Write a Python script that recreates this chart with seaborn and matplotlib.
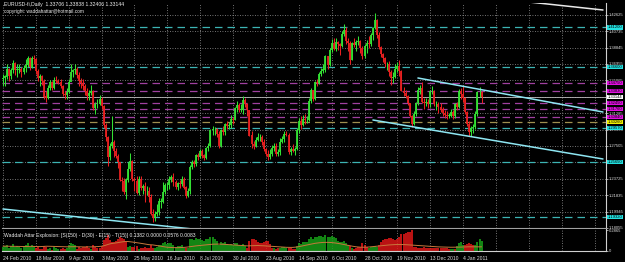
import numpy as np
import pandas as pd
import matplotlib
matplotlib.use("Agg")
import matplotlib.pyplot as plt
import matplotlib.transforms as mtransforms
from matplotlib import font_manager
import seaborn as sns

sns.set_theme(style="dark")
_names = {f.name for f in font_manager.fontManager.ttflist}
FONT = 'Liberation Sans Narrow' if 'Liberation Sans Narrow' in _names else 'Liberation Sans'
plt.rcParams['font.family'] = [FONT, 'DejaVu Sans']

# ---------------- data (prices in pips, 1/10000) ----------------
first_open = 13525
closes = [13530, 13550, 13630, 13560, 13620, 13700, 13620, 13630, 13630, 13600,
          13650, 13680, 13760, 13660, 13760, 13750, 13610, 13530, 13550, 13500,
          13320, 13300, 13420, 13480, 13420, 13510, 13500, 13480, 13440, 13350,
          13340, 13370, 13490, 13600, 13620, 13640, 13570, 13500, 13470, 13440,
          13380, 13330, 13360, 13380, 13190, 13230, 13230, 13290, 13210, 12990,
          12850, 12620, 12750, 12800, 12690, 12630, 12560, 12360, 12350, 12220,
          12360, 12480, 12570, 12370, 12350, 12210, 12370, 12270, 12290, 12230,
          12230, 12160, 11970, 11920, 11970, 11990, 12110, 12110, 12220, 12300,
          12300, 12370, 12390, 12330, 12280, 12320, 12310, 12370, 12270, 12170,
          12230, 12510, 12560, 12540, 12640, 12620, 12690, 12640, 12610, 12730,
          12750, 12930, 12940, 12940, 12890, 12750, 12930, 12910, 13000, 12980,
          12990, 13060, 13050, 13190, 13220, 13160, 13170, 13280, 13230, 13160,
          12870, 12770, 12750, 12820, 12850, 12850, 12800, 12710, 12660, 12620,
          12660, 12730, 12750, 12660, 12680, 12800, 12830, 12890, 12880, 12680,
          12710, 12690, 12710, 12930, 13040, 12990, 13060, 13050, 13050, 13270,
          13390, 13290, 13490, 13470, 13580, 13610, 13630, 13790, 13680, 13860,
          13930, 13870, 13950, 13920, 13900, 14040, 14080, 13960, 13940, 13740,
          13930, 13910, 13950, 13960, 13880, 13790, 13900, 13940, 13920, 14030,
          14110, 14200, 14030, 13890, 13810, 13760, 13690, 13690, 13600, 13530,
          13540, 13640, 13670, 13610, 13380, 13360, 13330, 13240, 13090, 13000,
          13120, 13240, 13390, 13420, 13260, 13240, 13250, 13230, 13380, 13380,
          13230, 13230, 13200, 13170, 13130, 13110, 13100, 13100, 13140, 13100,
          13230, 13200, 13380, 13350, 13300, 13140, 13000, 12910, 12960, 12970,
          13120, 13370, 13371, 13314]
highs = [13580, 13570, 13690, 13650, 13650, 13740, 13720, 13700, 13690, 13660,
         13680, 13750, 13790, 13770, 13790, 13800, 13760, 13640, 13580, 13570,
         13520, 13380, 13450, 13510, 13500, 13540, 13560, 13520, 13520, 13450,
         13380, 13420, 13520, 13690, 13640, 13700, 13660, 13600, 13530, 13520,
         13460, 13420, 13390, 13450, 13400, 13260, 13290, 13340, 13320, 13220,
         13020, 12870, 12790, 13090, 12820, 12730, 12660, 12570, 12390, 12380,
         12380, 12560, 12670, 12590, 12390, 12400, 12400, 12400, 12310, 12330,
         12290, 12280, 12200, 12020, 12000, 12080, 12150, 12150, 12340, 12320,
         12340, 12400, 12420, 12440, 12360, 12340, 12360, 12400, 12390, 12290,
         12270, 12530, 12590, 12590, 12660, 12670, 12720, 12710, 12660, 12740,
         12790, 12950, 12980, 12970, 12960, 12920, 12950, 12980, 13020, 13040,
         13030, 13110, 13080, 13200, 13270, 13250, 13230, 13330, 13300, 13250,
         13160, 12920, 12810, 12850, 12900, 12890, 12880, 12830, 12730, 12700,
         12710, 12760, 12780, 12790, 12720, 12840, 12860, 12920, 12920, 12900,
         12740, 12770, 12740, 12960, 13070, 13100, 13110, 13120, 13090, 13300,
         13420, 13400, 13500, 13520, 13600, 13650, 13700, 13800, 13790, 13880,
         13980, 14000, 14000, 13960, 13940, 14070, 14160, 14120, 14000, 13960,
         13950, 14000, 13970, 14020, 13970, 13900, 13920, 13970, 14020, 14050,
         14120, 14282, 14210, 14060, 13900, 13820, 13780, 13720, 13730, 13620,
         13600, 13700, 13720, 13740, 13620, 13430, 13390, 13340, 13250, 13110,
         13150, 13260, 13430, 13450, 13490, 13300, 13300, 13290, 13400, 13440,
         13390, 13270, 13260, 13250, 13200, 13160, 13150, 13130, 13180, 13170,
         13240, 13260, 13410, 13420, 13440, 13310, 13150, 13040, 12980, 13000,
         13150, 13380, 13433, 13384]
lows = [13440, 13440, 13520, 13500, 13520, 13590, 13570, 13550, 13590, 13540,
        13580, 13600, 13660, 13620, 13650, 13700, 13580, 13500, 13440, 13450,
        13290, 13260, 13290, 13400, 13390, 13410, 13470, 13460, 13420, 13330,
        13290, 13290, 13360, 13560, 13540, 13580, 13530, 13440, 13420, 13400,
        13340, 13280, 13280, 13340, 13160, 13120, 13190, 13220, 13180, 12960,
        12810, 12520, 12590, 12730, 12620, 12610, 12500, 12350, 12230, 12200,
        12140, 12330, 12460, 12350, 12230, 12200, 12190, 12240, 12200, 12110,
        12180, 12110, 11950, 11876, 11880, 11940, 11960, 12040, 12090, 12200,
        12240, 12250, 12330, 12290, 12250, 12240, 12260, 12290, 12250, 12150,
        12160, 12200, 12480, 12510, 12520, 12590, 12610, 12610, 12590, 12600,
        12690, 12740, 12880, 12880, 12850, 12730, 12740, 12880, 12880, 12950,
        12950, 12960, 13000, 13050, 13140, 13140, 13140, 13120, 13200, 13100,
        12860, 12730, 12720, 12740, 12810, 12810, 12760, 12690, 12630, 12590,
        12600, 12640, 12690, 12640, 12630, 12650, 12780, 12800, 12860, 12660,
        12650, 12680, 12650, 12700, 12900, 12950, 12980, 13000, 13010, 13040,
        13250, 13270, 13280, 13440, 13460, 13560, 13590, 13600, 13640, 13670,
        13830, 13860, 13850, 13860, 13800, 13890, 14020, 13930, 13840, 13700,
        13740, 13890, 13850, 13910, 13820, 13750, 13760, 13820, 13880, 13900,
        13970, 14100, 14000, 13870, 13770, 13720, 13660, 13630, 13560, 13450,
        13480, 13530, 13600, 13560, 13380, 13330, 13300, 13220, 13080, 12970,
        12990, 13100, 13220, 13350, 13240, 13180, 13210, 13190, 13200, 13350,
        13210, 13160, 13130, 13140, 13100, 13070, 13060, 13070, 13080, 13060,
        13070, 13160, 13190, 13290, 13260, 13120, 12980, 12870, 12870, 12900,
        12940, 13100, 13310, 13241]

# Waddah Attar Explosion: signed trend histogram (+ green / - red), explosion line (x1/1000)
wae_trend = [60, 75, 90, 40, 65, 95, 50, 70, 55, 45, 70, 85, 105, 60, 90,
             70, -45, -60, -30, -25, -70, -55, 30, 40, -20,
             50, 45, 30, -25, -35, -30, 40,
             80, 110, 95, 85, -30,
             -50, -45, -55, -60, -65, -40, 30, -85, -60, -45,
             -40, -70, -150, -180, -215, -150, -120, -130, -140, -160, -200, -175, -165, -120,
             50, 70, -60, -55, -70, 30, -45, -40, -50, -45, -40, -80,
             -40, 35, 50, 80, 85, 110, 120, 100, 115, 105, 80, 60, 70, 65, 80, 40, -35,
             45, 160, 170, 150, 175, 160, 170, 150, 140, 165, 170, 200, 190, 170,
             140, 90, 120, 110, 120, 100, 90, 100, 85, 110, 115, 80, 75, 95, 70, -45,
             -140, -160, -170, -150, -120, -110, -115, -130, -140, -135, -100,
             -40, 35, -30, -45, 40, 50, 60, 45, -45, -35, -30, -25,
             70, 110, 100, 120, 125, 120, 170, 190, 165, 200, 195, 210, 205, 200, 220, 190, 200, 210, 195, 180,
             140, 120, 130, 135, 110, 80, -70, 40,
             -30, -40, -50, -60, -110, -90, -50,
             35, 50, 60, 75, 60,
             -90, -130, -150, -160, -170, -180, -185, -160, -150, -170, -200, -230, -240, -250, -260, -270, -285,
             -60, -50, -45, -40, -45, -50, -40, -45, -40, -35, -40,
             -45, -40, -45, -40, -40, -35, -30, 25, 30, -30,
             70, 110, 120, 90,
             -90, -100, -110, -95, -80,
             80, 130, 170, 138]
wae_explosion = [68, 67, 66, 66, 65, 65, 64, 64, 63, 63,
                 62, 62, 63, 64, 64, 63, 62, 61, 61, 62,
                 64, 66, 66, 65, 64, 63, 62, 61, 60, 60,
                 59, 58, 58, 59, 60, 60, 59, 58, 57, 57,
                 56, 56, 56, 57, 59, 60, 61, 64, 66, 72,
                 80, 90, 98, 104, 108, 112, 116, 122, 126, 130,
                 132, 131, 128, 124, 120, 116, 112, 107, 102, 97,
                 92, 88, 86, 84, 80, 75, 70, 65, 60, 56,
                 52, 50, 48, 47, 46, 46, 47, 48, 50, 52,
                 56, 60, 64, 68, 71, 74, 77, 80, 83, 86,
                 89, 92, 94, 95, 96, 96, 95, 94, 92, 90,
                 88, 86, 84, 82, 80, 78, 76, 74, 72, 71,
                 72, 74, 75, 76, 76, 75, 74, 72, 70, 68,
                 66, 64, 62, 60, 58, 56, 54, 52, 51, 50,
                 50, 50, 52, 55, 60, 66, 72, 78, 84, 90,
                 96, 102, 107, 111, 114, 117, 119, 120, 120, 119,
                 117, 114, 110, 106, 101, 96, 90, 84, 78, 72,
                 67, 62, 58, 55, 53, 52, 52, 53, 55, 58,
                 61, 64, 67, 70, 73, 76, 79, 82, 84, 86,
                 88, 89, 90, 90, 90, 89, 88, 86, 84, 82,
                 80, 78, 76, 74, 72, 70, 68, 66, 64, 62,
                 60, 58, 57, 56, 55, 54, 53, 52, 52, 52,
                 52, 53, 54, 55, 56, 57, 58, 58, 58, 58,
                 58, 58, 58, 57.6]

date_labels = ["24 Feb 2010", "18 Mar 2010", "9 Apr 2010", "3 May 2010", "25 May 2010",
               "16 Jun 2010", "8 Jul 2010", "30 Jul 2010", "23 Aug 2010", "14 Sep 2010",
               "6 Oct 2010", "28 Oct 2010", "19 Nov 2010", "13 Dec 2010", "4 Jan 2011"]
price_ticks = [1.42625, 1.40735, 1.38845, 1.36955, 1.35065, 1.33175, 1.31285,
               1.29395, 1.27505, 1.25615, 1.23725, 1.21835, 1.19945, 1.18055]
cyan_levels = [1.41200, 1.36600, 1.29570, 1.25650, 1.19320]
magenta_levels = [1.34750, 1.33830, 1.32450, 1.31760, 1.30840]
olive_levels = [1.30260]
last_price = 1.33144
# trend lines: (bar0, price0, bar1, price1)
channel_upper = [(202.0, 1.35334), (292.1, 1.31415)]
channel_lower = [(180.1, 1.30493), (292.1, 1.26000)]
support_left = [(0.0, 1.20237), (100.0, 1.17740)]
resist_top = [(240.0, 1.44500), (292.1, 1.43170)]

title = "EURUSD-fi,Daily  1.33706 1.33838 1.32406 1.33144"
subtitle = "copyright: waddahattar@hotmail.com"
ind_label = "Waddah Attar Explosion: [S(150) - D(30) - E(15) - T(15)] 0.1382 0.0000 0.0576 0.0083"

# ---------------- build ----------------
dates = pd.bdate_range("2010-02-24", "2011-01-17")
c = np.array(closes) / 1e4
o = np.concatenate([[first_open], closes[:-1]]) / 1e4
h = np.array(highs) / 1e4
l = np.array(lows) / 1e4
bars = np.arange(len(c))
df = pd.DataFrame({"bar": bars, "open": o, "high": h, "low": l, "close": c})
ind = pd.DataFrame({"bar": bars, "trend": np.array(wae_trend) / 1000.0,
                    "expl": np.array(wae_explosion) / 1000.0})

W, H = 625, 262
fig = plt.figure(figsize=(W / 100, H / 100), dpi=100, facecolor="black")
ax = fig.add_axes([2 / W, (H - 228) / H, 604 / W, 225 / H], facecolor="black")
ax2 = fig.add_axes([2 / W, (H - 251) / H, 604 / W, 22 / H], facecolor="black")

PX = 0.0011524
ytop = last_price + 94 * PX
ybot = last_price - 131 * PX
xlo, xhi = -0.487, 293.57
for a in (ax, ax2):
    a.set_xlim(xlo, xhi)
ax.set_ylim(ybot, ytop)
ax2.set_ylim(0, 0.305)

grid_kw = dict(color="#9a9a9a", lw=0.6, ls=(0, (1, 2)))
vpos = list(range(0, 294, 16))
for a in (ax, ax2):
    for xv in vpos:
        a.axvline(xv, zorder=0, **grid_kw)
for pv in price_ticks:
    ax.axhline(pv, zorder=0, **grid_kw)

# level lines
for pv in cyan_levels:
    ax.axhline(pv, color="#3cb4b4", lw=0.9, ls=(0, (6, 4)), zorder=1)
for pv in magenta_levels:
    ax.axhline(pv, color="#a040a0", lw=0.9, ls=(0, (6, 4)), zorder=1)
for pv in olive_levels:
    ax.axhline(pv, color="#a09050", lw=0.9, ls=(0, (6, 4)), zorder=1)
ax.axhline(last_price, color="#bdbdbd", lw=0.6, zorder=1)

# candles
up = df["close"] >= df["open"]
cols = np.where(up, "#33e033", "#e82020")
ax.vlines(df["bar"], df["low"], df["high"], colors=cols, lw=0.75, zorder=3)
ax.vlines(df["bar"], np.minimum(df["open"], df["close"]),
          np.maximum(df["open"], df["close"]) + 0.00015, colors=cols, lw=1.3, zorder=3)

# trend lines
for seg, colr in ((channel_upper, "#8ee6f2"), (channel_lower, "#8ee6f2"),
                  (support_left, "#8ee6f2"), (resist_top, "#e8e8e8")):
    sdf = pd.DataFrame({"bar": [seg[0][0], seg[1][0]], "p": [seg[0][1], seg[1][1]]})
    sns.lineplot(data=sdf, x="bar", y="p", ax=ax, color=colr, lw=1.1, zorder=4)

# indicator
hcols = np.where(ind["trend"] >= 0, "#18a018", "#e01818")
ax2.vlines(ind["bar"], 0, ind["trend"].abs(), colors=hcols, lw=1.2, zorder=2)
sns.lineplot(data=ind, x="bar", y="expl", ax=ax2, color="#c8783c", lw=0.7, zorder=3)

# axes cosmetics
for a in (ax, ax2):
    a.set_xlabel("")
    a.set_ylabel("")
    a.grid(False)
    for s in a.spines.values():
        s.set_visible(False)
ax.spines["right"].set_visible(True)
ax.spines["right"].set_color("#d0d0d0")
ax.spines["right"].set_linewidth(0.8)
ax.spines["bottom"].set_visible(True)
ax.spines["bottom"].set_color("#a0a0a0")
ax.spines["bottom"].set_linewidth(0.8)
for sp in ("right", "bottom"):
    ax2.spines[sp].set_visible(True)
    ax2.spines[sp].set_color("#d0d0d0")
    ax2.spines[sp].set_linewidth(0.8)

ax.set_xticks([])
ax.yaxis.tick_right()
ax.set_yticks(price_ticks)
ax.set_yticklabels([f"{v:.5f}" for v in price_ticks])
ax.tick_params(axis="y", colors="#e0e0e0", labelsize=3.0, length=1.2, width=0.5, pad=0.8)

ax2.yaxis.tick_right()
ax2.set_yticks([0.2865, 0.0])
ax2.set_yticklabels(["0.2865", "0"])
ax2.tick_params(axis="y", colors="#e0e0e0", labelsize=3.0, length=1.2, width=0.5, pad=0.8)
tick_pos = [dates.get_loc(pd.Timestamp(d)) for d in date_labels]
ax2.set_xticks(tick_pos)
ax2.set_xticklabels(date_labels, ha="left")
ax2.tick_params(axis="x", colors="#e0e0e0", labelsize=3.6, length=2, width=0.5, pad=1.5)

# right-side level tags
blend = mtransforms.blended_transform_factory(ax.transAxes, ax.transData)
def tag(v, face, txtc="black"):
    ax.text(1.0025, v, f"{v:.5f}", transform=blend, fontsize=3.0, color=txtc,
            va="center", ha="left", clip_on=False, zorder=10,
            bbox=dict(boxstyle="square,pad=0.1", fc=face, ec="none"))
for v in cyan_levels:
    tag(v, "#22e0e0")
for v in magenta_levels:
    tag(v, "#e010e0")
for v in olive_levels:
    tag(v, "#f0f000")
tag(last_price, "#ffffff")

# texts
fig.text(4 / W, 1 - 2 / H, title, color="#f0f0f0", fontsize=3.7, va="top", ha="left")
fig.text(4 / W, 1 - 9 / H, subtitle, color="#f0f0f0", fontsize=3.4, va="top", ha="left")
fig.text(4 / W, 1 - 235 / H, ind_label, color="#f0f0f0", fontsize=3.6, va="center", ha="left")

fig.savefig("out.png", dpi=100, facecolor="black")
